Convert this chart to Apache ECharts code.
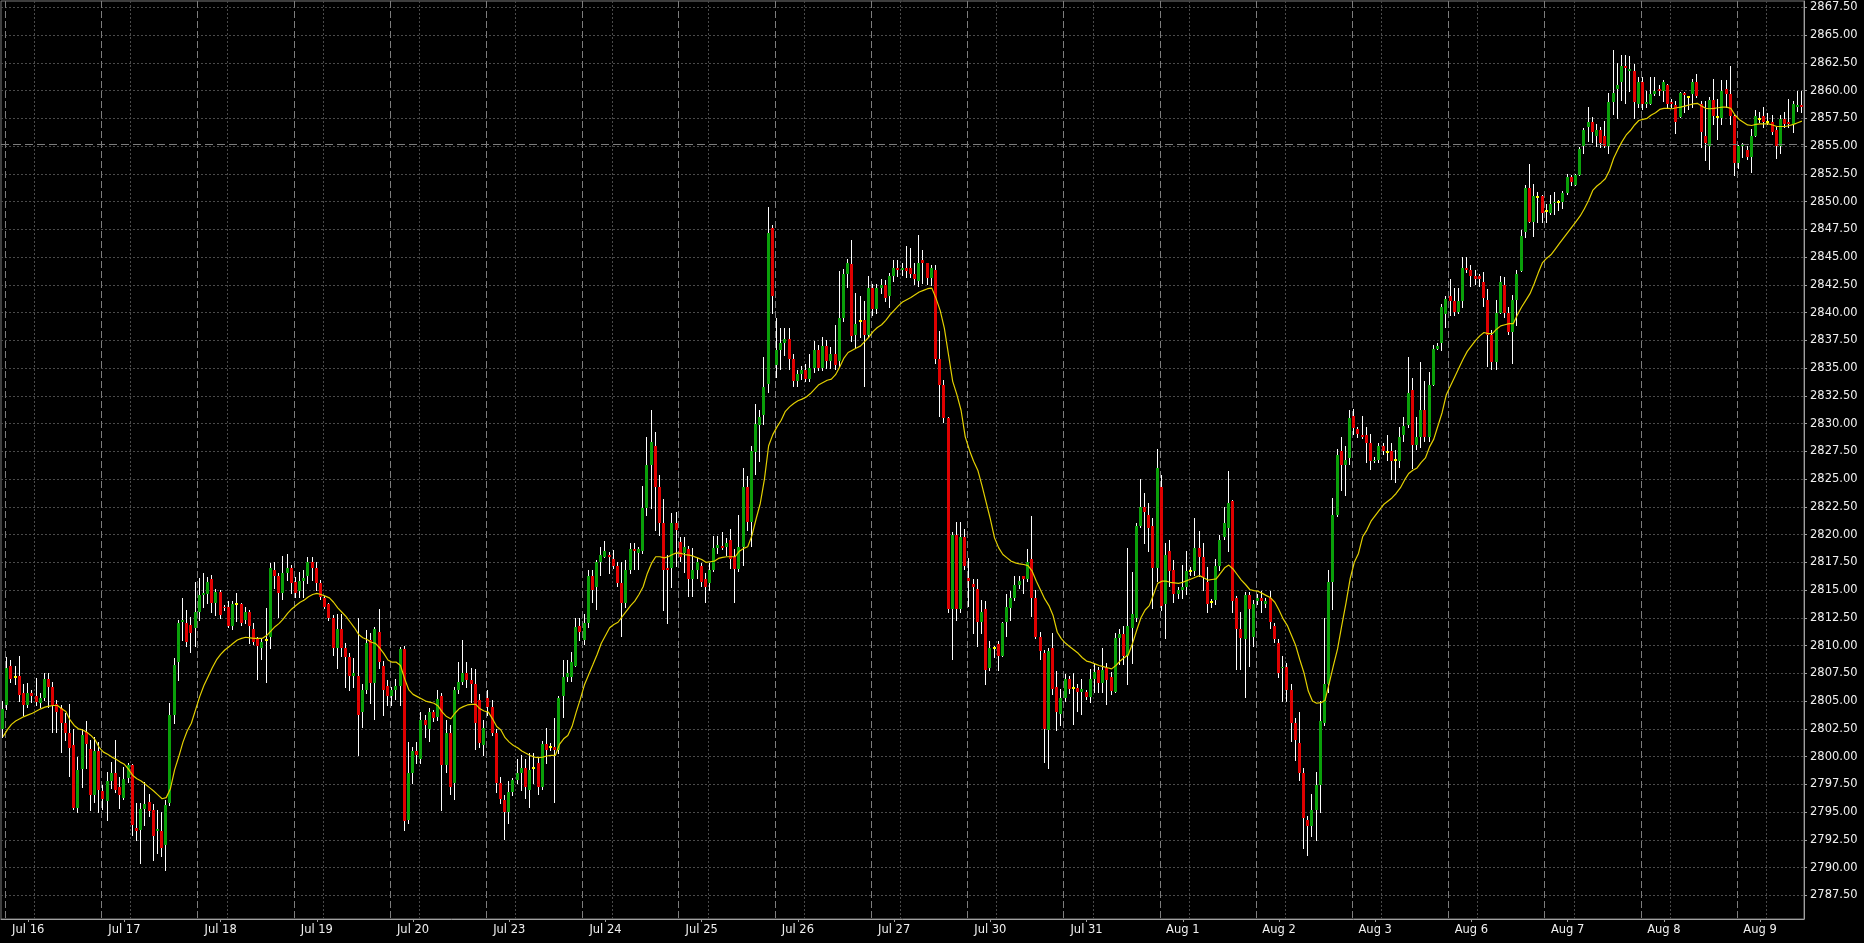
<!DOCTYPE html>
<html>
<head>
<meta charset="utf-8">
<script src="https://cdn.jsdelivr.net/npm/echarts/dist/echarts.min.js"></script>
<style>
html,body{margin:0;padding:0;background:#000;}
#main{width:1864px;height:943px;}
</style>
</head>
<body>
<div id="main"></div>
<script>
// ---- Data (H1 candles) ----
const prevDayLabel = 'Jul 13';
const dayLabels = ['Jul 16','Jul 17','Jul 18','Jul 19','Jul 20','Jul 23','Jul 24','Jul 25','Jul 26','Jul 27',
  'Jul 30','Jul 31','Aug 1','Aug 2','Aug 3','Aug 6','Aug 7','Aug 8','Aug 9'];
const barsPerDay = 23;

const yTicks = [2787.5,2790,2792.5,2795,2797.5,2800,2802.5,2805,2807.5,2810,2812.5,2815,2817.5,2820,2822.5,
  2825,2827.5,2830,2832.5,2835,2837.5,2840,2842.5,2845,2847.5,2850,2852.5,2855,2857.5,2860,2862.5,2865,2867.5];
const hLineLevel = 2855.2;

const open = [
2802.5,
2804.6,2808.2,2807.2,2807.3,2805.7,2804.6,2805.7,2805.5,2804.8,2805.3,2807.0,2806.3,2804.7,2804.35,2803.05,2802.1,2801.0,2795.35,2798.9,2802.2,2800.7,2796.5,2800.5,
2796.9,2796.0,2797.8,2798.5,2797.3,2796.3,2798.1,2799.2,2793.6,2793.4,2795.3,2795.9,2795.2,2793.3,2793.3,2792.0,2795.8,2803.75,2808.55,2812.1,2812.0,2811.85,2811.55,
2813.05,2814.55,2814.6,2816.0,2813.8,2814.8,2813.5,2813.5,2811.8,2813.7,2813.7,2812.3,2813.05,2811.5,2810.6,2809.8,2810.5,2810.8,2816.8,2816.3,2814.7,2816.5,2817.0,
2815.7,2814.9,2815.8,2816.3,2817.5,2817.0,2815.6,2814.3,2813.7,2812.5,2809.8,2811.5,2809.8,2809.0,2807.3,2807.3,2804.0,2806.0,2810.5,2806.6,2811.2,2808.2,2806.4,
2805.5,2806.0,2806.4,2809.7,2794.3,2798.5,2800.5,2799.8,2803.3,2802.5,2804.0,2803.6,2805.5,2799.2,2802.1,2797.6,2806.0,2806.7,2807.5,2806.9,2806.5,2805.1,2801.0,
2805.3,2804.5,2802.1,2797.6,2796.1,2795.0,2796.8,2797.9,2798.5,2799.0,2797.0,2799.0,2799.4,2797.3,2801.1,2800.9,2800.9,2800.6,2805.5,2807.2,2807.2,2808.2,2811.75,
2810.5,2812.05,2816.25,2815.3,2817.5,2818.0,2818.2,2817.8,2817.2,2815.6,2813.8,2816.8,2818.7,2818.3,2818.5,2822.35,2826.25,2828.0,2824.3,2821.0,2817.0,2817.0,2821.0,
2819.3,2818.3,2818.7,2816.0,2816.8,2817.2,2816.0,2815.6,2816.8,2818.8,2819.0,2818.9,2819.5,2818.0,2816.9,2818.9,2824.3,2821.1,2827.4,2829.9,2830.8,2833.6,2847.6,
2835.3,2836.6,2837.3,2837.6,2835.8,2833.8,2834.5,2834.8,2834.0,2835.0,2836.6,2835.0,2837.0,2835.6,2836.3,2835.6,2839.5,2843.5,2844.35,2838.0,2839.2,2839.3,2838.0,
2842.2,2840.3,2842.2,2842.5,2841.5,2843.3,2844.0,2843.8,2844.0,2844.0,2843.5,2842.8,2844.7,2844.5,2843.1,2843.8,2835.8,2833.5,2830.5,2813.3,2820.0,2813.3,2819.8,
2816.1,2815.55,2815.1,2812.1,2813.3,2808.0,2809.76,2810.1,2809.1,2812.1,2813.4,2814.3,2815.5,2816.3,2816.0,2817.8,2814.3,2810.8,2809.3,2802.35,2809.8,2806.3,2803.8,
2805.3,2806.96,2806.2,2806.2,2805.8,2805.8,2805.4,2807.0,2807.8,2806.6,2808.0,2807.2,2805.8,2810.7,2811.0,2809.1,2811.6,2812.5,2820.8,2822.5,2821.8,2820.8,2817.0,
2824.25,2813.7,2818.5,2816.8,2814.6,2815.0,2815.3,2816.75,2816.75,2818.75,2818.0,2815.7,2813.9,2814.1,2817.2,2819.75,2820.6,2823.0,2814.3,2811.5,2810.55,2814.55,2810.8,
2814.0,2814.25,2813.75,2814.25,2811.8,2810.2,2807.95,2808.1,2806.0,2803.0,2801.2,2798.5,2794.25,2793.7,2795.2,2797.4,2803.0,2806.5,2815.75,2821.8,2827.5,2826.3,2826.9,
2830.7,2829.5,2829.0,2829.0,2828.25,2826.66,2826.73,2828.0,2827.47,2827.54,2826.7,2826.66,2828.96,2829.84,2833.03,2828.07,2828.78,2831.26,2828.78,2833.46,2836.75,2837.28,2839.83,
2841.53,2841.07,2840.04,2841.07,2844.0,2843.83,2843.3,2843.3,2842.77,2841.15,2837.94,2835.53,2839.95,2842.44,2839.95,2838.24,2841.15,2843.7,2847.25,2851.21,2848.2,2850.4,2850.49,
2849.14,2848.96,2849.86,2849.95,2850.0,2850.76,2852.2,2851.51,2852.41,2854.96,2856.7,2857.21,2855.95,2856.46,2855.95,2855.0,2858.96,2860.1,2860.76,2862.17,2861.72,2861.72,2858.8,
2860.76,2858.81,2858.81,2859.71,2860.16,2859.95,2860.46,2858.96,2858.72,2857.6,2859.77,2859.41,2859.71,2860.76,2858.81,2855.95,2854.96,2859.17,2857.6,2857.54,2860.16,2859.71,2857.67,
2853.46,2854.96,2854.66,2854.0,2855.95,2857.42,2857.67,2857.15,2857.21,2856.46,2854.96,2857.45,2857.21,2857.0,2858.5,2858.72
];

const close = [
2804.3,
2808.0,2807.0,2807.2,2805.55,2804.6,2805.7,2805.5,2804.95,2805.3,2807.0,2806.3,2804.6,2804.0,2803.05,2802.1,2800.8,2795.35,2798.8,2801.9,2801.1,2796.5,2800.5,2797.0,
2796.2,2797.8,2798.5,2797.0,2796.5,2798.0,2799.2,2793.8,2793.3,2795.3,2795.7,2795.1,2792.8,2793.5,2791.8,2795.6,2803.75,2808.25,2812.05,2812.3,2810.3,2811.1,2813.05,
2814.55,2814.7,2815.75,2813.8,2814.8,2812.75,2813.35,2811.8,2813.7,2813.7,2812.0,2813.05,2811.8,2810.3,2810.0,2810.3,2810.5,2817.0,2816.3,2814.7,2816.5,2817.0,2815.6,
2814.7,2815.8,2816.1,2817.5,2816.95,2815.6,2814.4,2813.5,2812.5,2809.8,2811.5,2809.8,2809.0,2807.3,2807.5,2803.75,2806.0,2810.2,2806.6,2811.45,2808.5,2806.0,2805.5,
2806.0,2806.4,2809.7,2794.2,2798.5,2800.5,2800.1,2803.3,2802.8,2804.0,2803.5,2805.2,2799.2,2802.1,2797.3,2806.0,2806.7,2807.5,2806.9,2806.5,2803.0,2801.2,2802.6,
2804.5,2802.1,2797.6,2796.2,2795.0,2796.8,2797.9,2798.5,2799.0,2797.3,2798.8,2799.0,2797.3,2801.1,2800.6,2800.9,2800.6,2805.3,2807.2,2807.5,2808.5,2811.7,2811.2,
2812.0,2816.25,2815.0,2817.5,2818.2,2818.5,2818.0,2817.2,2815.6,2813.8,2816.8,2818.7,2818.5,2818.7,2822.35,2826.25,2828.3,2824.3,2821.0,2816.8,2816.8,2821.0,2820.4,
2818.0,2818.9,2816.0,2816.8,2817.5,2815.7,2815.3,2816.8,2818.8,2819.1,2818.8,2819.2,2817.8,2816.9,2818.9,2824.3,2821.1,2827.5,2830.0,2830.6,2833.3,2847.2,2841.5,
2836.6,2837.3,2837.6,2835.8,2833.8,2834.5,2834.8,2834.0,2835.0,2836.6,2835.0,2837.0,2835.6,2836.3,2835.3,2839.5,2843.5,2844.5,2837.85,2839.0,2839.2,2838.0,2842.2,
2840.3,2842.2,2842.5,2841.3,2843.3,2844.0,2843.8,2844.0,2843.7,2843.5,2843.0,2844.5,2844.5,2843.1,2844.0,2835.8,2833.5,2830.5,2813.3,2820.0,2813.3,2819.8,2817.2,
2815.8,2815.3,2812.1,2813.0,2807.8,2809.8,2809.76,2809.1,2812.0,2813.5,2814.3,2815.5,2815.8,2816.0,2817.5,2814.3,2810.8,2809.5,2802.5,2809.5,2806.1,2804.0,2805.3,
2806.96,2806.06,2806.2,2805.8,2806.1,2805.4,2806.96,2807.6,2806.6,2807.8,2806.9,2805.95,2810.7,2811.0,2809.1,2811.8,2812.8,2820.8,2822.5,2822.05,2820.6,2817.0,2826.0,
2813.55,2818.2,2816.75,2814.6,2815.0,2815.3,2816.75,2816.75,2818.75,2818.0,2816.2,2813.7,2813.9,2817.2,2819.5,2821.0,2822.8,2814.0,2811.5,2810.7,2814.55,2813.3,2813.7,
2814.25,2814.0,2814.0,2812.1,2810.55,2807.5,2808.1,2806.0,2803.0,2801.45,2798.5,2794.5,2793.7,2795.2,2797.4,2803.2,2806.5,2815.75,2821.8,2827.2,2826.3,2826.7,2830.5,
2829.6,2829.05,2828.8,2828.25,2826.65,2826.73,2828.0,2827.54,2827.47,2826.66,2826.7,2828.78,2829.77,2832.75,2828.07,2828.78,2831.26,2828.78,2833.46,2836.75,2837.0,2840.54,2841.25,
2841.07,2840.04,2841.07,2844.0,2843.83,2843.3,2843.05,2843.05,2841.35,2837.94,2835.53,2839.95,2842.74,2839.95,2838.24,2841.15,2843.5,2846.94,2851.21,2848.2,2850.49,2850.4,2848.96,
2849.14,2849.8,2849.95,2849.95,2850.76,2852.2,2851.75,2852.41,2854.75,2856.46,2857.21,2856.25,2856.46,2855.26,2854.99,2858.96,2859.77,2860.46,2862.17,2862.02,2861.96,2858.96,2860.76,
2858.81,2858.96,2859.71,2859.92,2859.95,2860.76,2858.81,2858.81,2857.21,2859.77,2859.56,2859.41,2860.76,2859.5,2856.25,2855.26,2859.17,2857.67,2857.6,2859.92,2859.71,2857.67,2853.46,
2854.96,2855.16,2854.0,2855.95,2857.67,2857.42,2857.15,2857.15,2856.25,2854.96,2857.45,2857.0,2857.0,2858.81,2858.72,2858.5
];

const low = [
2801.8,
2804.3,2806.75,2806.5,2805.0,2803.7,2804.5,2804.9,2804.6,2804.5,2805.1,2804.5,2802.25,2802.25,2800.4,2801.5,2798.25,2795.3,2795.0,2797.3,2799.0,2795.2,2795.9,2795.0,
2795.3,2794.3,2797.2,2796.8,2795.4,2796.2,2797.7,2792.9,2792.5,2790.4,2793.8,2794.6,2790.7,2791.3,2791.0,2789.8,2795.6,2803.0,2806.9,2810.5,2810.0,2809.45,2810.0,
2812.3,2813.5,2813.8,2813.05,2812.75,2812.45,2813.2,2811.7,2811.5,2812.2,2811.85,2812.0,2810.2,2810.1,2807.0,2808.8,2806.75,2809.75,2815.15,2812.6,2814.2,2815.9,2814.7,
2814.4,2814.4,2814.4,2815.6,2815.9,2815.0,2814.2,2813.4,2812.3,2809.15,2808.0,2809.1,2806.3,2806.0,2806.3,2800.1,2802.7,2805.7,2804.8,2803.4,2808.0,2803.7,2804.6,
2804.6,2805.2,2804.6,2793.4,2794.0,2797.6,2799.4,2799.4,2801.8,2801.4,2803.2,2803.3,2795.2,2798.6,2796.6,2796.2,2805.7,2806.5,2806.3,2804.9,2800.7,2800.9,2800.1,
2803.7,2801.9,2796.8,2795.8,2792.6,2794.0,2796.5,2797.6,2797.0,2796.3,2795.5,2797.6,2796.6,2797.1,2799.4,2800.6,2795.9,2800.3,2803.6,2806.8,2806.8,2808.2,2810.5,
2810.1,2811.7,2813.95,2813.3,2816.4,2818.0,2816.5,2817.0,2815.4,2810.9,2813.5,2816.5,2816.9,2816.9,2818.3,2821.75,2822.4,2820.4,2820.0,2813.2,2812.0,2815.3,2817.2,
2817.6,2816.6,2814.5,2814.5,2816.1,2815.4,2813.9,2815.0,2816.7,2818.3,2818.7,2818.2,2817.0,2813.9,2816.7,2817.3,2820.4,2819.0,2825.5,2826.6,2830.0,2832.8,2840.0,
2834.2,2834.9,2836.2,2834.9,2833.4,2833.4,2834.0,2833.8,2833.8,2834.6,2834.8,2834.8,2835.0,2835.0,2834.9,2835.2,2839.2,2842.3,2837.4,2836.8,2837.8,2833.4,2837.8,
2839.8,2840.0,2841.8,2841.0,2840.5,2842.8,2843.3,2843.4,2843.2,2843.2,2842.6,2842.4,2842.7,2842.6,2842.5,2835.5,2830.7,2830.1,2813.0,2808.8,2812.3,2813.0,2816.9,
2813.6,2811.1,2810.0,2811.1,2806.5,2807.8,2809.0,2807.8,2809.1,2810.9,2812.3,2814.1,2815.2,2814.7,2815.8,2812.7,2810.7,2808.8,2799.5,2799.0,2805.6,2802.35,2802.8,
2805.0,2805.7,2802.9,2804.1,2803.8,2805.2,2804.9,2805.8,2805.8,2805.8,2804.7,2805.6,2805.8,2808.3,2808.3,2806.5,2808.4,2812.2,2820.7,2819.2,2818.5,2813.4,2815.8,
2813.2,2810.7,2815.4,2813.9,2814.3,2814.3,2814.6,2816.4,2816.4,2816.3,2815.0,2813.0,2813.5,2813.7,2816.8,2819.6,2818.5,2813.0,2807.9,2807.9,2805.4,2808.2,2810.0,
2813.7,2813.0,2813.5,2811.6,2810.3,2807.2,2805.0,2805.0,2801.4,2799.7,2797.9,2791.8,2791.1,2792.8,2792.5,2795.0,2802.8,2805.8,2813.3,2821.7,2824.0,2823.6,2826.4,
2829.1,2828.8,2828.7,2826.5,2825.95,2826.5,2826.5,2827.3,2826.7,2825.0,2824.7,2826.1,2828.4,2829.7,2826.0,2827.7,2827.9,2828.4,2828.4,2833.46,2836.75,2836.64,2838.7,
2839.76,2839.76,2839.94,2840.47,2843.65,2842.4,2842.6,2842.4,2840.6,2835.2,2834.93,2834.93,2839.95,2839.59,2838.09,2835.44,2838.84,2843.7,2846.8,2848.15,2846.94,2848.15,2848.15,
2848.15,2848.9,2848.9,2849.2,2849.44,2850.7,2851.45,2851.51,2852.35,2854.36,2855.5,2855.35,2854.96,2854.9,2854.9,2854.4,2857.91,2857.5,2859.14,2858.9,2860.0,2857.5,2858.5,
2858.36,2858.5,2858.8,2859.56,2859.56,2859.1,2858.5,2858.5,2856.16,2857.6,2858.06,2858.36,2858.5,2859.41,2854.9,2853.7,2852.95,2857.0,2855.65,2857.0,2858.5,2857.0,2852.35,
2853.0,2854.0,2853.85,2852.65,2855.95,2857.15,2856.7,2857.0,2856.1,2853.94,2854.36,2856.7,2856.7,2856.25,2858.15,2858.06
];

const high = [
2805.0,
2809.0,2808.7,2808.2,2809.1,2806.5,2806.6,2806.0,2807.1,2805.7,2807.5,2807.5,2806.75,2805.1,2804.65,2803.9,2804.7,2802.5,2800.0,2802.5,2803.2,2801.5,2801.8,2801.3,
2797.4,2798.6,2799.5,2801.5,2798.2,2799.1,2799.4,2799.3,2795.8,2795.8,2797.7,2796.6,2795.7,2795.2,2795.0,2796.1,2804.8,2808.85,2812.3,2814.3,2813.2,2812.6,2815.75,
2816.1,2816.5,2816.2,2816.4,2815.05,2815.0,2813.65,2814.0,2814.0,2814.7,2813.8,2813.5,2813.2,2812.0,2810.8,2810.55,2813.4,2817.4,2817.5,2816.5,2818.1,2818.25,2817.25,
2816.2,2816.6,2816.8,2818.0,2818.0,2817.5,2815.9,2814.5,2813.8,2812.75,2812.8,2812.8,2810.2,2809.3,2808.85,2812.5,2806.5,2811.4,2811.1,2811.7,2813.3,2808.6,2806.9,
2806.3,2807.0,2809.9,2810.0,2801.3,2800.9,2801.3,2804.0,2803.7,2804.4,2804.2,2806.0,2805.7,2803.3,2802.8,2806.3,2808.5,2810.5,2808.5,2808.0,2807.9,2805.6,2803.3,
2806.0,2805.1,2802.5,2798.2,2796.5,2797.8,2798.1,2799.8,2800.1,2799.8,2800.3,2800.3,2800.0,2801.4,2802.6,2801.2,2803.5,2805.5,2808.7,2808.7,2809.4,2812.5,2812.5,
2812.8,2816.8,2816.8,2817.75,2818.9,2819.4,2818.4,2818.6,2817.5,2817.5,2817.7,2819.2,2819.2,2818.9,2824.4,2828.8,2831.2,2829.25,2825.4,2823.2,2818.2,2821.9,2822.0,
2819.8,2819.8,2819.0,2818.8,2817.9,2817.4,2816.5,2817.4,2819.9,2819.9,2820.2,2819.7,2820.5,2818.7,2821.75,2826.0,2825.3,2828.0,2831.8,2831.2,2836.0,2849.5,2847.9,
2839.5,2838.6,2838.6,2838.6,2836.3,2834.8,2835.2,2835.4,2836.3,2837.4,2837.1,2837.8,2837.5,2836.9,2838.9,2843.7,2843.9,2844.8,2846.5,2841.8,2841.5,2841.0,2843.3,
2842.6,2842.6,2843.0,2842.9,2843.6,2844.75,2844.75,2844.5,2846.0,2845.8,2844.5,2847.0,2845.6,2844.5,2844.3,2844.3,2838.3,2833.9,2830.6,2820.2,2821.1,2821.1,2820.5,
2817.9,2816.0,2816.0,2814.1,2814.0,2810.4,2810.0,2810.4,2812.1,2814.6,2814.9,2816.3,2816.3,2816.3,2818.7,2821.7,2815.0,2811.2,2809.6,2809.8,2811.1,2807.7,2806.1,
2807.4,2807.3,2807.5,2806.5,2807.0,2806.0,2807.9,2808.3,2808.1,2809.8,2808.4,2807.6,2811.1,2811.5,2811.8,2818.8,2816.6,2821.0,2825.0,2823.7,2822.8,2821.5,2827.7,
2825.4,2819.2,2819.5,2817.7,2815.3,2817.3,2818.5,2817.1,2821.45,2820.3,2819.2,2817.1,2814.2,2817.8,2820.0,2822.5,2825.7,2823.1,2814.5,2813.0,2814.8,2814.8,2814.1,
2814.6,2814.9,2814.3,2814.9,2812.0,2810.55,2809.1,2808.4,2806.5,2803.5,2804.0,2799.0,2794.6,2796.6,2798.6,2805.0,2812.5,2816.8,2823.3,2827.7,2828.8,2828.0,2831.2,
2831.3,2829.7,2830.7,2829.7,2829.1,2827.0,2828.25,2828.25,2829.0,2828.25,2827.6,2829.67,2830.55,2835.97,2834.1,2830.55,2835.58,2833.8,2834.6,2837.1,2837.3,2840.8,2841.5,
2843.0,2842.24,2842.24,2845.0,2845.0,2844.3,2843.8,2843.5,2843.65,2842.14,2838.4,2841.09,2843.28,2843.19,2840.49,2841.54,2843.8,2847.45,2851.45,2853.4,2851.6,2850.85,2850.55,
2849.8,2850.55,2850.85,2850.1,2850.91,2852.5,2852.35,2852.5,2854.9,2856.64,2858.5,2857.6,2857.0,2856.7,2857.3,2859.8,2863.67,2862.47,2863.16,2863.16,2863.07,2862.41,2861.2,
2861.21,2860.0,2861.21,2861.21,2860.46,2860.97,2860.61,2859.26,2859.1,2859.86,2859.86,2859.47,2861.06,2861.51,2859.1,2859.02,2859.41,2861.06,2859.26,2860.91,2860.97,2862.17,2857.76,
2855.05,2855.26,2854.96,2856.55,2858.21,2858.06,2858.5,2857.97,2857.76,2856.7,2857.76,2858.06,2859.26,2859.1,2859.95,2859.95
];

// yellow moving-average line
const ma = [
2801.8,2802.4,2802.9,2803.2,2803.4,2803.6,2803.75,2803.9,2804.1,2804.3,
2804.45,2804.55,2804.6,2804.6,2804.3,2804.05,2803.3,2802.8,2802.5,2802.4,
2802.2,2801.9,2801.5,2800.8,2800.4,2800.2,2799.95,2799.75,2799.5,2799.3,
2798.85,2798.3,2798.0,2797.8,2797.5,2797.2,2796.9,2796.55,2796.2,2796.3,
2797.1,2798.8,2800.0,2801.3,2802.3,2803.0,2804.2,2805.4,2806.4,2807.2,
2808.0,2808.7,2809.2,2809.6,2809.9,2810.2,2810.5,2810.65,2810.75,2810.7,
2810.65,2810.65,2810.65,2810.9,2811.3,2811.7,2812.0,2812.4,2812.9,2813.3,
2813.6,2813.9,2814.1,2814.4,2814.6,2814.7,2814.6,2814.45,2814.3,2813.9,
2813.4,2813.0,2812.6,2812.1,2811.6,2811.0,2810.7,2810.55,2810.3,2810.2,
2809.8,2809.3,2808.7,2808.5,2808.5,2808.2,2807.0,2806.0,2805.6,2805.4,
2805.2,2805.0,2804.9,2804.8,2804.55,2804.0,2803.6,2803.4,2803.9,2804.3,
2804.5,2804.65,2804.7,2804.7,2804.3,2804.1,2804.0,2803.4,2802.7,2802.4,
2801.7,2801.3,2801.0,2800.8,2800.5,2800.3,2800.1,2799.95,2799.9,2799.95,
2800.05,2800.1,2800.1,2801.1,2801.6,2801.9,2802.7,2804.0,2805.2,2806.5,
2807.4,2808.3,2809.2,2810.2,2810.9,2811.6,2811.9,2812.1,2812.6,2813.1,
2813.6,2814.0,2814.6,2815.3,2816.5,2817.4,2818.0,2818.0,2817.9,2818.0,
2818.2,2818.35,2818.3,2818.2,2818.15,2818.05,2817.9,2817.75,2817.5,2817.55,
2817.6,2817.85,2817.95,2818.0,2818.0,2818.0,2818.5,2818.75,2818.9,2819.9,
2821.4,2822.8,2825.0,2828.0,2829.0,2829.7,2830.3,2831.1,2831.5,2831.8,
2832.05,2832.2,2832.4,2832.7,2833.1,2833.5,2833.7,2833.9,2834.0,2834.4,
2835.1,2835.9,2836.4,2836.6,2836.8,2837.0,2837.4,2837.8,2838.3,2838.65,
2838.9,2839.3,2839.8,2840.2,2840.6,2840.95,2841.15,2841.35,2841.6,2841.85,
2842.0,2842.15,2842.2,2841.3,2840.2,2838.6,2836.2,2833.8,2832.6,2831.2,
2828.8,2827.6,2826.6,2825.8,2824.4,2822.9,2821.4,2819.7,2818.8,2818.2,
2817.9,2817.6,2817.45,2817.35,2817.3,2817.2,2816.7,2815.8,2815.0,2814.2,
2813.6,2812.7,2811.2,2810.6,2810.2,2809.9,2809.6,2809.3,2808.9,2808.6,
2808.5,2808.35,2808.2,2808.1,2808.0,2807.9,2808.2,2808.6,2808.9,2809.2,
2810.2,2811.4,2812.5,2813.2,2813.6,2814.6,2815.6,2815.8,2815.8,2815.7,
2815.65,2815.6,2815.7,2815.85,2816.0,2816.15,2816.3,2816.1,2815.9,2815.95,
2816.0,2816.5,2817.0,2817.25,2816.9,2816.4,2815.9,2815.5,2815.05,2814.95,
2814.9,2814.7,2814.5,2814.3,2813.9,2813.2,2812.4,2811.8,2810.9,2810.0,
2808.7,2807.5,2805.9,2805.0,2804.8,2804.85,2805.05,2806.6,2808.2,2809.7,
2811.8,2813.8,2816.0,2817.5,2818.3,2819.8,2820.4,2821.2,2821.7,2822.2,
2822.7,2823.0,2823.3,2823.7,2824.2,2824.9,2825.5,2825.8,2826.0,2826.5,
2826.9,2827.9,2828.6,2829.8,2831.0,2832.6,2833.4,2834.2,2835.0,2835.8,
2836.5,2837.0,2837.5,2837.9,2838.2,2838.1,2838.1,2838.5,2838.8,2838.9,
2839.0,2839.0,2839.8,2840.5,2841.1,2841.7,2842.6,2843.6,2844.5,2844.9,
2845.2,2845.7,2846.2,2846.7,2847.2,2847.7,2848.2,2848.7,2849.35,2850.1,
2851.0,2851.4,2851.7,2852.05,2852.8,2853.9,2854.7,2855.4,2856.0,2856.4,
2856.9,2857.3,2857.4,2857.5,2857.8,2858.0,2858.3,2858.4,2858.4,2858.36,
2858.45,2858.5,2858.6,2858.7,2858.8,2858.85,2858.6,2858.4,2858.36,2858.4,
2858.45,2858.5,2858.5,2858.4,2857.8,2857.4,2857.15,2856.9,2856.85,2856.95,
2857.0,2857.0,2857.0,2856.9,2856.76,2856.76,2856.76,2856.85,2856.95,2857.1,2857.25
];

// ---- Build categories (one per hourly bar) ----
const categories = [];
categories.push(prevDayLabel + ' 23:00');
for (let i = 1; i < open.length; i++) {
  const d = Math.floor((i - 1) / barsPerDay);
  const k = (i - 1) % barsPerDay;
  categories.push(dayLabels[d] + ' ' + String(k).padStart(2, '0') + ':00');
}
const candleData = open.map((o, i) => [i, o, close[i], low[i], high[i]]);

const GREEN = '#0aa00a', RED = '#e00000', DOJI = '#ffff00', WICK = '#ffffff';
const LABEL_IDX = 6, GRID_IDX = 8, SEP_IDX = 1;

function renderCandle(params, api) {
  const i = api.value(0);
  const o = api.value(1), c = api.value(2);
  const l = Math.min(api.value(3), o, c), h = Math.max(api.value(4), o, c);
  const pO = api.coord([i, o]), pC = api.coord([i, c]);
  const pL = api.coord([i, l]), pH = api.coord([i, h]);
  const cx = Math.round(pO[0]) - 1;
  const yH = Math.round(pH[1]), yL = Math.round(pL[1]);
  const top = Math.round(Math.min(pO[1], pC[1]));
  const bot = Math.round(Math.max(pO[1], pC[1]));
  const children = [{
    type: 'rect', shape: { x: cx, y: yH, width: 1, height: Math.max(1, yL - yH + 1) },
    style: { fill: WICK }
  }];
  if (o === c) {
    children.push({ type: 'rect', shape: { x: cx - 1, y: top - 1, width: 3, height: 2 }, style: { fill: DOJI } });
  } else {
    children.push({ type: 'rect', shape: { x: cx - 1, y: top, width: 3, height: Math.max(1, bot - top) },
      style: { fill: c > o ? GREEN : RED } });
  }
  return { type: 'group', children };
}

const chart = echarts.init(document.getElementById('main'), null, { renderer: 'canvas' });
const labelFont = { color: '#f0f0f0', fontSize: 11.5, fontFamily: 'DejaVu Sans' };

chart.setOption({
  backgroundColor: '#000000',
  animation: false,
  grid: {
    left: 1, right: 60, top: 1, bottom: 24,
    containLabel: false, outerBoundsMode: 'none',
    show: true, borderColor: '#7a7a7a', borderWidth: 1, backgroundColor: 'transparent'
  },
  xAxis: [{
    type: 'category', data: categories, boundaryGap: true,
    axisLine: { show: true, lineStyle: { color: '#a0a0a0', width: 1 } },
    axisTick: { show: true, alignWithLabel: true, length: 3,
      interval: (i) => i % barsPerDay === LABEL_IDX, lineStyle: { color: '#a0a0a0' } },
    axisLabel: Object.assign({
      interval: (i) => i % barsPerDay === LABEL_IDX,
      formatter: (v, i) => dayLabels[Math.floor((i - 1) / barsPerDay)],
      margin: 5, hideOverlap: false
    }, labelFont),
    splitLine: { show: true, interval: (i) => i % barsPerDay === GRID_IDX,
      lineStyle: { color: '#4a4a4a', type: [2, 2], width: 1 } }
  }, {
    type: 'category', data: categories, boundaryGap: true, position: 'top',
    axisLine: { show: false }, axisTick: { show: false }, axisLabel: { show: false },
    splitLine: { show: true, interval: (i) => i % barsPerDay === SEP_IDX,
      lineStyle: { color: '#7c7c7c', type: [7, 3], width: 1 } }
  }],
  yAxis: {
    type: 'value', position: 'right', scale: true,
    min: 2785.365, max: 2868.068,
    axisLine: { show: true, lineStyle: { color: '#a0a0a0', width: 1 } },
    axisTick: { show: true, customValues: yTicks, length: 3, lineStyle: { color: '#a0a0a0' } },
    axisLabel: Object.assign({ customValues: yTicks, formatter: (v) => v.toFixed(2), margin: 6, showMinLabel: true, showMaxLabel: true }, labelFont),
    splitLine: { show: true, lineStyle: { color: '#4a4a4a', type: [2, 2], width: 1 } }
  },
  series: [{
    type: 'line', data: [], silent: true, z: 1,
    markLine: {
      silent: true, symbol: ['none', 'none'], label: { show: false },
      lineStyle: { color: '#7c7c7c', type: [8, 4], width: 1 },
      data: [{ yAxis: hLineLevel }]
    }
  }, {
    type: 'custom', name: 'price', data: candleData, clip: true, z: 2,
    encode: { x: 0, y: [1, 2, 3, 4] },
    renderItem: renderCandle
  }, {
    type: 'line', name: 'MA', data: ma, showSymbol: false, symbol: 'none', z: 3,
    lineStyle: { color: '#e3d000', width: 1.2 }, silent: true
  }]
});
</script>
</body>
</html>
